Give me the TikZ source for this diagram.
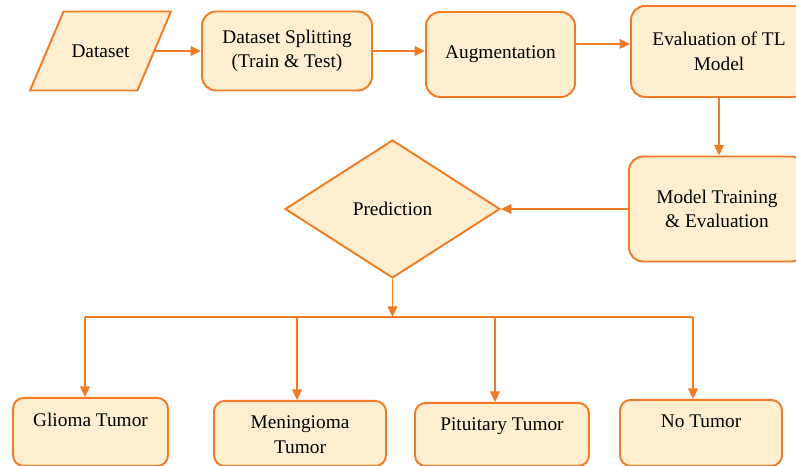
\documentclass[tikz,border=0pt]{standalone}
\usepackage{fontspec}
\setmainfont{Liberation Serif}
\usepackage{tikz}
\usetikzlibrary{shapes.geometric,arrows.meta,positioning}
\definecolor{flowline}{HTML}{F47B26}
\definecolor{flowfill}{HTML}{FFEFD0}
\tikzstyle{stepbox} = [draw=flowline, line width=1.1pt, rectangle, rounded corners=8pt, fill=flowfill, align=center, font=\fontsize{11}{14}\selectfont]
\tikzstyle{databox} = [draw=flowline, line width=1.1pt, trapezium, trapezium left angle=67, trapezium right angle=113, trapezium stretches body, fill=flowfill, inner xsep=0pt, text height=0.28cm, text depth=0.02cm, inner ysep=0.64cm, font=\fontsize{11}{14}\selectfont]
\tikzstyle{decbox} = [draw=flowline, line width=1.1pt, diamond, fill=flowfill, inner sep=0pt, font=\fontsize{11}{14}\selectfont]
\tikzstyle{leafbox} = [stepbox, rounded corners=6pt, anchor=north]
\tikzstyle{leaftext} = [align=center, inner sep=0pt, font=\fontsize{11}{14}\selectfont]
\tikzstyle{flowline} = [draw=flowline, line width=1.1pt]
\tikzstyle{flow} = [flowline, -{Triangle[length=6pt,width=5.5pt]}]

\begin{document}
\begin{tikzpicture}[x=0.02cm, y=-0.02cm]
    \useasboundingbox (0,0) rectangle (796,466);
    % top row
    \node [databox, minimum width=2.82cm] (data) at (100.5,51) {Dataset};
    \node [stepbox, minimum width=3.4cm, minimum height=1.58cm] (split) at (287,51) {Dataset Splitting\\(Train \& Test)};
    \node [stepbox, minimum width=2.98cm, minimum height=1.7cm] (aug) at (500.5,54.5) {Augmentation};
    \node [stepbox, minimum width=3.52cm, minimum height=1.82cm] (eval) at (719,51.5) {Evaluation of TL\\Model};
    % middle row
    \node [stepbox, minimum width=3.52cm, minimum height=2.1cm] (train) at (717,209) {Model Training\\\& Evaluation};
    \node [decbox, minimum width=4.3cm, minimum height=2.76cm] (pred) at (392.5,209) {Prediction};
    % classes
    \node [leafbox, minimum width=3.1cm, minimum height=1.36cm] (glioma) at (90.5,397) {};
    \node [leafbox, minimum width=3.44cm, minimum height=1.3cm] (mening) at (300,400) {};
    \node [leafbox, minimum width=3.48cm, minimum height=1.26cm] (pitu) at (502,402) {};
    \node [leafbox, minimum width=3.24cm, minimum height=1.32cm] (notumor) at (701,399) {};
    \node [leaftext, below=9pt of glioma.north] (gliomaT) {Glioma Tumor};
    \node [leaftext, below=9pt of mening.north] (meningT) {Meningioma\\Tumor};
    \node [leaftext, below=9pt of pitu.north] (pituT) {Pituitary Tumor};
    \node [leaftext, below=9pt of notumor.north] (notumorT) {No Tumor};

    \coordinate (d1) at (85,317);
    \coordinate (d2) at (297,317);
    \coordinate (d3) at (495,317);
    \coordinate (d4) at (693,317);

    \draw [flow] (data.east) -- (data.east -| split.west);
    \draw [flow] (split.east) -- (split.east -| aug.west);
    \draw [flow] ([yshift=6pt]aug.east) -- ([yshift=6pt]aug.east -| eval.west);
    \draw [flow] (eval.south) -- (eval.south |- train.north);
    \draw [flow] (train.west) -- (pred.east);
    \draw [flow] (pred.south) -- (pred.south |- d1);
    \draw [flowline] (d1) -- (d4);
    \draw [flow] (d1) -- (d1 |- glioma.north);
    \draw [flow] (d2) -- (d2 |- mening.north);
    \draw [flow] (d3) -- (d3 |- pitu.north);
    \draw [flow] (d4) -- (d4 |- notumor.north);
\end{tikzpicture}
\end{document}
